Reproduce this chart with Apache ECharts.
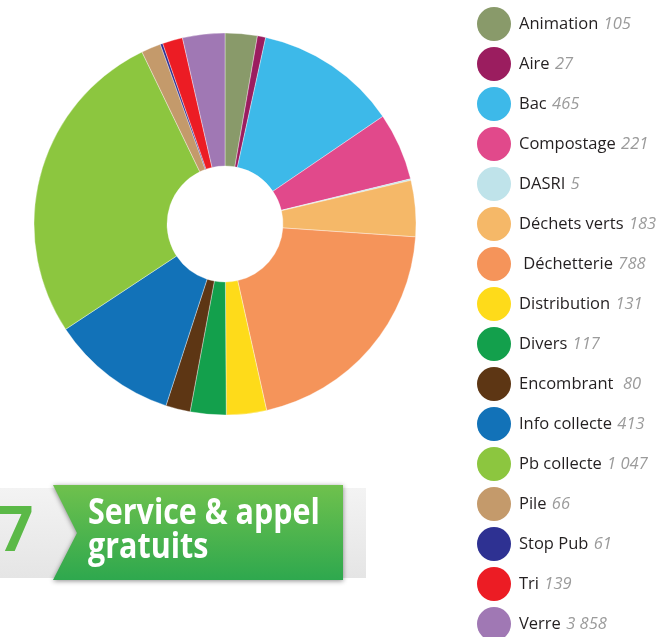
<!DOCTYPE html>
<html>
<head>
<meta charset="utf-8">
<script src="https://cdn.jsdelivr.net/npm/echarts@6/dist/echarts.min.js"></script>
<style>
html, body { margin: 0; padding: 0; background: #fff; }
#pieChart { width: 658px; height: 637px; }
</style>
</head>
<body>
<div id="pieChart"></div>
<script>
// categories, clockwise from 12 o'clock
var categories = ['Animation', 'Aire', 'Bac', 'Compostage', 'DASRI', 'Déchets verts', ' Déchetterie',
	'Distribution', 'Divers', 'Encombrant', 'Info collecte', 'Pb collecte', 'Pile', 'Stop Pub', 'Tri', 'Verre'];
// slice sizes as drawn
var sliceValues = [105, 27, 465, 221, 5, 183, 788, 131, 117, 80, 413, 1047, 64, 8, 66, 138];
// numbers printed next to the legend
var legendNumbers = ['105', '27', '465', '221', '5', '183', '788', '131', '117', ' 80', '413', '1 047', '66', '61', '139', '3 858'];
var colors = ['#899a6a', '#9b1d5f', '#3db9e9', '#e1498b', '#bfe3ea', '#f5b868', '#f5945a',
	'#fedb1a', '#13a04c', '#5d3614', '#1272b8', '#8cc63f', '#c49a6b', '#2e3192', '#ec1c24', '#a078b4'];

var pieChart = echarts.init(document.getElementById('pieChart'));

var pieData = categories.map(function (c, i) {
	return { name: c, value: sliceValues[i], itemStyle: { color: colors[i] } };
});

var pieOption = {
	animation: false,
	legend: {
		orient: 'vertical',
		left: 477,
		top: 7,
		height: 700,
		padding: 0,
		icon: 'circle',
		itemWidth: 34,
		itemHeight: 34,
		itemGap: 6,
		itemStyle: { borderWidth: 0 },
		selectedMode: false,
		data: categories,
		formatter: function (name) {
			var i = categories.indexOf(name);
			return '{n|' + name + '} {v|' + legendNumbers[i] + '}';
		},
		textStyle: {
			padding: [0, 0, 0, 3],
			rich: {
				n: { fontFamily: 'Open Sans', fontSize: 16.5, color: '#231f20', height: 22 },
				v: { fontFamily: 'Open Sans', fontSize: 16.5, fontStyle: 'italic', color: '#9b9b9b', padding: [0, 0, 0, 2], height: 22 }
			}
		}
	},
	series: [{
		type: 'pie',
		center: [225, 224],
		radius: [58, 191],
		startAngle: 90,
		clockwise: true,
		avoidLabelOverlap: false,
		label: { show: false },
		labelLine: { show: false },
		emphasis: { disabled: true },
		itemStyle: { borderColor: 'rgba(255,255,255,0.6)', borderWidth: 0.6 },
		data: pieData
	}],
	graphic: [
		{
			type: 'rect',
			shape: { x: 0, y: 488, width: 366, height: 90 },
			style: {
				fill: new echarts.graphic.LinearGradient(0, 0, 0, 1, [
					{ offset: 0, color: '#f3f3f3' },
					{ offset: 1, color: '#e5e5e5' }
				])
			}
		},
		{
			type: 'text',
			left: -2,
			top: 502,
			style: { text: '7', fontFamily: 'Open Sans', fontWeight: 'bold', fontSize: 62, fill: '#5bb947' }
		},
		{
			type: 'polygon',
			shape: { points: [[53, 485], [343, 485], [343, 580], [53, 580], [77, 533]] },
			style: {
				fill: new echarts.graphic.LinearGradient(0, 0, 0, 1, [
					{ offset: 0, color: '#6fc14d' },
					{ offset: 1, color: '#2ea84e' }
				]),
				shadowBlur: 5,
				shadowColor: 'rgba(0,0,0,0.45)',
				shadowOffsetY: 1
			}
		},
		{
			type: 'text',
			x: 88,
			y: 497,
			scaleX: 0.87,
			style: {
				text: 'Service & appel\ngratuits',
				fontFamily: 'Open Sans',
				fontWeight: 'bold',
				fontSize: 35,
				lineHeight: 34,
				fill: '#fff'
			}
		}
	]
};

if (pieOption && typeof pieOption === 'object') {
	pieChart.setOption(pieOption, true);
}
</script>
</body>
</html>
